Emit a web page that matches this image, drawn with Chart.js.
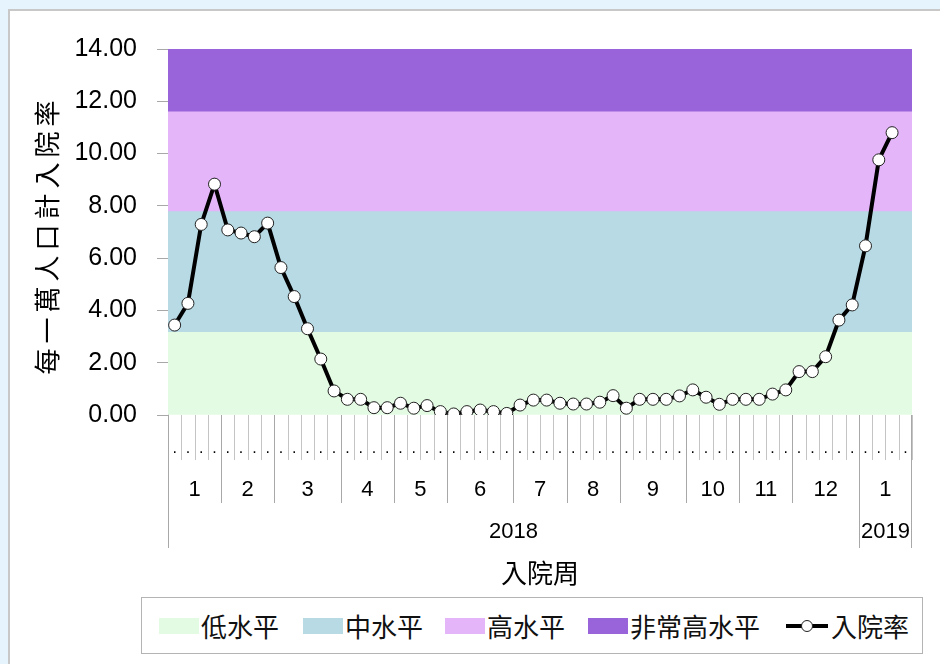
<!DOCTYPE html>
<html>
<head>
<meta charset="utf-8">
<script src="https://cdn.jsdelivr.net/npm/chart.js@4.4.1/dist/chart.umd.min.js"></script>
<style>
  html, body { margin: 0; padding: 0; }
  body { width: 940px; height: 664px; background: #e6f5fd; position: relative; overflow: hidden; }
  #panel { position: absolute; left: 8px; top: 9px; width: 940px; height: 664px; background: #fff;
           border-left: 2px solid #c8c8c8; border-top: 2px solid #c8c8c8; }
  #wrap { position: absolute; left: 0; top: 0; width: 940px; height: 664px; }
  #legend { position: absolute; left: 141px; top: 597px; width: 780px; height: 55px; border: 1px solid #b4b4b4;
            background: #fff; font-family: "Noto Sans CJK TC", sans-serif; font-size: 26px; color: #111; }
  .item { position: absolute; top: 0; height: 55px; display: flex; align-items: center; }
  .sw { width: 40px; height: 16px; margin-right: 2px; }
</style>
</head>
<body>
<div id="panel"></div>
<div id="wrap"><canvas id="chart" width="940" height="664"></canvas></div>
<div id="legend"></div>
<script>
// weekly hospitalisation rate, 2018 wk1 .. 2019 wk4
var weeks = [];
for (var w = 1; w <= 52; w++) weeks.push('2018-' + w);
for (var w2 = 1; w2 <= 4; w2++) weeks.push('2019-' + w2);

var rates = [
  3.44, 4.27, 7.29, 8.83, 7.08, 6.96, 6.82, 7.34, 5.64, 4.53,
  3.30, 2.14, 0.92, 0.60, 0.60, 0.28, 0.28, 0.45, 0.26, 0.36,
  0.13, 0.04, 0.13, 0.19, 0.13, 0.06, 0.38, 0.57, 0.57, 0.45,
  0.42, 0.42, 0.49, 0.74, 0.26, 0.60, 0.60, 0.60, 0.73, 0.96,
  0.68, 0.41, 0.60, 0.60, 0.60, 0.80, 0.96, 1.66, 1.66, 2.23,
  3.63, 4.21, 6.47, 9.76, 10.80, null
];

var monthLabels = ['1','2','3','4','5','6','7','8','9','10','11','12','1'];
var monthWeeks  = [4,4,5,4,4,5,4,4,5,4,4,5,4];
var yearLabels  = ['2018','2019'];
var yearWeeks   = [52,4];

var bandNames  = ['低水平','中水平','高水平','非常高水平'];
var bandLimits = [0, 3.16, 7.78, 11.6, 14];
var bandColors = ['#e3fbe3','#b7dae5','#e5b5f9','#9963da'];

var yTicks = [0, 2, 4, 6, 8, 10, 12, 14];

var LINE_GRAY = '#a8a8a8';

var decor = {
  id: 'decor',
  afterDraw: function(chart){
    var ctx = chart.ctx, x = chart.scales.x, area = chart.chartArea;
    var n = weeks.length;
    function edge(i){
      if (i <= 0) return area.left;
      if (i >= n) return area.right;
      return (x.getPixelForValue(i - 1) + x.getPixelForValue(i)) / 2;
    }
    ctx.save();
    ctx.lineWidth = 1;
    // week separators and dots
    ctx.strokeStyle = '#c4c4c4';
    ctx.fillStyle = '#000';
    ctx.font = '16px "Liberation Sans", Arial';
    ctx.textAlign = 'center';
    ctx.textBaseline = 'middle';
    for (var i = 0; i <= n; i++) {
      var ex = Math.round(edge(i)) + 0.5;
      ctx.beginPath(); ctx.moveTo(ex, area.bottom); ctx.lineTo(ex, area.bottom + 45); ctx.stroke();
      if (i < n) ctx.fillText('.', x.getPixelForValue(i), area.bottom + 34);
    }
    // months
    ctx.strokeStyle = LINE_GRAY;
    ctx.font = '22px "Liberation Sans", Arial';
    var k = 0;
    for (var m = 0; m < monthLabels.length; m++) {
      var a = edge(k), b = edge(k + monthWeeks[m]);
      ctx.beginPath(); ctx.moveTo(Math.round(a) + 0.5, area.bottom); ctx.lineTo(Math.round(a) + 0.5, area.bottom + 88); ctx.stroke();
      ctx.fillText(monthLabels[m], (a + b) / 2, area.bottom + 75);
      k += monthWeeks[m];
    }
    // years
    k = 0;
    for (var y = 0; y < yearLabels.length; y++) {
      var ya = edge(k), yb = edge(k + yearWeeks[y]);
      ctx.beginPath(); ctx.moveTo(Math.round(ya) + 0.5, area.bottom); ctx.lineTo(Math.round(ya) + 0.5, area.bottom + 133); ctx.stroke();
      ctx.fillText(yearLabels[y], (ya + yb) / 2, area.bottom + 117);
      k += yearWeeks[y];
    }
    var rx = Math.round(area.right) - 0.5;
    ctx.beginPath(); ctx.moveTo(rx, area.bottom); ctx.lineTo(rx, area.bottom + 133); ctx.stroke();

    // axis titles
    ctx.font = '26px "Noto Sans CJK TC", sans-serif';
    ctx.fillText('入院周', (area.left + area.right) / 2, area.bottom + 158);
    ctx.translate(47, 237);
    ctx.rotate(-Math.PI / 2);
    ctx.letterSpacing = '5px';
    ctx.fillText('每一萬人口計入院率', 2, 0);
    ctx.restore();
  }
};

var datasets = [{
  type: 'line',
  label: '入院率',
  data: rates,
  xAxisID: 'x',
  borderColor: '#000',
  borderWidth: 4,
  pointRadius: 6,
  pointBackgroundColor: '#fff',
  pointBorderColor: '#222',
  pointBorderWidth: 1,
  tension: 0,
  spanGaps: false,
  order: 0
}];
bandNames.forEach(function(name, i){
  datasets.push({
    type: 'bar',
    label: name,
    data: [[bandLimits[i], bandLimits[i + 1]]],
    xAxisID: 'xb',
    backgroundColor: bandColors[i],
    borderWidth: 0,
    barPercentage: 1,
    categoryPercentage: 1,
    grouped: false,
    order: 1
  });
});

new Chart(document.getElementById('chart').getContext('2d'), {
  data: { labels: weeks, datasets: datasets },
  options: {
    responsive: false,
    animation: false,
    layout: { padding: { left: 0, right: 28, top: 49, bottom: 0 } },
    plugins: { legend: { display: false }, tooltip: { enabled: false } },
    scales: {
      x: {
        type: 'category',
        labels: weeks,
        offset: true,
        ticks: { display: false },
        grid: { display: false },
        border: { display: false },
        afterFit: function(s){ s.height = 249; }
      },
      xb: {
        type: 'category',
        labels: ['band'],
        display: false,
        offset: true
      },
      y: {
        min: 0, max: 14,
        afterBuildTicks: function(s){ s.ticks = yTicks.map(function(v){ return { value: v }; }); },
        ticks: {
          padding: 20,
          color: '#000',
          font: { family: '"Liberation Sans", Arial', size: 25 },
          callback: function(v){ return Number(v).toFixed(2); }
        },
        grid: { drawOnChartArea: false, tickLength: 11, color: LINE_GRAY },
        border: { color: LINE_GRAY },
        afterFit: function(s){ s.width = 168; }
      }
    }
  },
  plugins: [decor]
});

// legend
(function(){
  var lg = document.getElementById('legend');
  var xs = [17, 161, 303, 446, 643];
  bandNames.forEach(function(name, i){
    var d = document.createElement('div');
    d.className = 'item';
    d.style.left = xs[i] + 'px';
    d.innerHTML = '<span class="sw" style="background:' + bandColors[i] + '"></span><span>' + name + '</span>';
    lg.appendChild(d);
  });
  var d = document.createElement('div');
  d.className = 'item';
  d.style.left = xs[4] + 'px';
  d.innerHTML = '<svg width="44" height="16" style="margin-right:2px"><line x1="1" y1="8" x2="43" y2="8" stroke="#000" stroke-width="4"/>' +
    '<circle cx="22" cy="8" r="5.5" fill="#fff" stroke="#222" stroke-width="1"/></svg><span>入院率</span>';
  lg.appendChild(d);
})();
</script>
</body>
</html>
